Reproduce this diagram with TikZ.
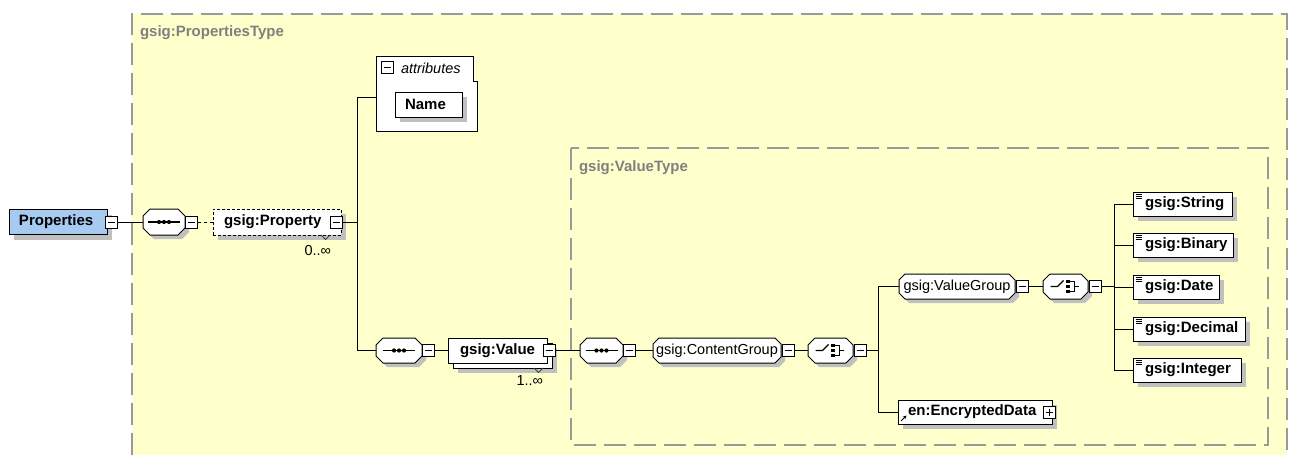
\documentclass[tikz,border=0pt]{standalone}
\usepackage{fontspec}
\setmainfont{Liberation Sans}
\usetikzlibrary{calc,shadows,arrows.meta}

\definecolor{paneyellow}{HTML}{FFFFCC}
\definecolor{framegray}{HTML}{999999}
\definecolor{labelgray}{HTML}{808080}
\definecolor{shadowgray}{HTML}{C0C0C0}
\definecolor{rootblue}{HTML}{A6CAF0}

\newcommand\elemfont{\fontsize{15}{17}\selectfont\bfseries}
\newcommand\plainfont{\fontsize{14.5}{17}\selectfont}

% octagon outline around a named (invisible) node: #2 chamfer, #3/#4 right/down offset
\newcommand\octpath[4]{($(#1.north west)+(#2+#3,-#4)$) -- ($(#1.north east)+(-#2+#3,-#4)$) -- ($(#1.north east)+(#3,-#2-#4)$) -- ($(#1.south east)+(#3,#2-#4)$) -- ($(#1.south east)+(-#2+#3,-#4)$) -- ($(#1.south west)+(#2+#3,-#4)$) -- ($(#1.south west)+(#3,#2-#4)$) -- ($(#1.north west)+(#3,-#2-#4)$) -- cycle}
\newcommand\octshape[2]{%
  \fill[shadowgray] \octpath{#1}{#2}{4pt}{4pt};
  \filldraw[fill=white, line width=1pt] \octpath{#1}{#2}{0pt}{0pt};}

% sequence compositor glyph
\newcommand\seqglyph[1]{%
  \begin{scope}[shift={(#1.center)}]
    \draw[line width=1.1pt] (-16,0) -- (16,0);
    \foreach \d in {-5,0,5} \fill (\d,0) circle (2.1pt);
  \end{scope}}
% choice compositor glyph
\newcommand\choiceglyph[1]{%
  \begin{scope}[shift={(#1.center)}, line width=1.1pt]
    \draw (-15,0) -- (-8,0) -- (-2,-6);
    \foreach \d in {-5,0,5} \fill (0.5,\d-1.9) rectangle (4.5,\d+1.9);
    \draw (4.5,-5) -- (9,-5) -- (9,5) -- (4.5,5);
    \draw (9,0) -- (13,0);
  \end{scope}}
% simple-type marker in the top left corner of an element
\newcommand\simpleglyph[1]{%
  \begin{scope}[shift={(#1.north west)}, line width=0.8pt]
    \foreach \d in {2.2,4.4,6.6} \draw (2.5,\d) -- (8.5,\d);
  \end{scope}}

\begin{document}
\begin{tikzpicture}[x=1pt, y=-1pt,
  every node/.style={inner sep=0pt, outer sep=0pt},
  edge/.style={line width=1pt},
  frame/.style={draw=framegray, line width=1.6pt, dash pattern=on 22pt off 8pt},
  framelabel/.style={anchor=west, text=labelgray, font=\elemfont},
  pmbox/.style={draw, fill=white, minimum size=12pt, line width=0.9pt},
  minusbox/.style={pmbox, path picture={\draw[line width=1pt] ([xshift=2.5pt]path picture bounding box.west) -- ([xshift=-2.5pt]path picture bounding box.east);}},
  plusbox/.style={pmbox, path picture={\draw[line width=1pt] ([xshift=2.5pt]path picture bounding box.west) -- ([xshift=-2.5pt]path picture bounding box.east) ([yshift=-2.5pt]path picture bounding box.north) -- ([yshift=2.5pt]path picture bounding box.south);}},
  shadowed/.style={drop shadow={shadow xshift=5pt, shadow yshift=-5pt, opacity=1, fill=shadowgray}},
  elem/.style={draw, fill=white, line width=1pt, anchor=west, align=left, minimum height=25pt, font=\elemfont},
  grouplabel/.style={font=\plainfont},
  occurs/.style={anchor=east, font=\plainfont},
  notch/.style={draw=black!75, line width=0.8pt},
]
\useasboundingbox (0,0) rectangle (1290,455);
\fill[white] (0,0) rectangle (1290,455);

% complex type panes
\fill[paneyellow] (132,14) rectangle (1287,455);
\draw[frame] (132,455) -- (132,14) -- (1287,14) -- (1287,455);
\node[framelabel] (ptype) at (140,33) {gsig:PropertiesType};
\draw[frame] (571,148) rectangle (1268,445);
\node[framelabel] (vtype) at (579,168) {gsig:ValueType};

% root element
\node[elem, shadowed, fill=rootblue, inner xsep=10pt, text width=78pt] (props) at (9,222) {Properties};
\node[minusbox] (props-m) at (111.5,222) {};

% outer sequence
\node[minimum width=42pt, minimum height=26pt] (seq1) at (164,222) {};
\octshape{seq1}{7pt}
\seqglyph{seq1}
\node[minusbox] (seq1-m) at (191.5,222) {};

% gsig:Property (optional, repeating)
\node[elem, shadowed, dash pattern=on 3pt off 2pt, inner xsep=11pt, text width=106pt, minimum height=26pt] (prop) at (213,222) {gsig:Property};
\node[minusbox] (prop-m) at (336.5,222) {};
\draw[notch] ([xshift=-20pt]prop.south east) -- ([xshift=-15.5pt,yshift=-4.5pt]prop.south east) -- ([xshift=-11pt]prop.south east);
\node[occurs] (prop-occ) at (331,251) {0..∞};

% attributes
\node[minimum width=101pt, minimum height=75pt] (attr) at (426.5,93.5) {};
\filldraw[fill=white, line width=1pt] (attr.north west) -- ([xshift=-4pt]attr.north east) -- ([xshift=-4pt,yshift=-25pt]attr.north east) -- ([yshift=-25pt]attr.north east) -- (attr.south east) -- (attr.south west) -- cycle;
\node[minusbox] (attr-m) at (387.5,67) {};
\node[anchor=west, font=\plainfont\itshape] (attr-t) at (401,68) {attributes};
\node[elem, shadowed, inner xsep=10pt, text width=47pt] (name) at (395,104.5) {Name};

% inner sequence
\node[minimum width=46pt, minimum height=25pt] (seq2) at (399,350.5) {};
\octshape{seq2}{7pt}
\seqglyph{seq2}
\node[minusbox] (seq2-m) at (428.5,350.5) {};

% gsig:Value (repeating)
\node[elem, shadowed, minimum width=99pt] (valb) at (453,355.5) {};
\node[elem, inner xsep=12pt, text width=75pt] (val) at (448,350.5) {gsig:Value};
\node[minusbox] (val-m) at (549,350.5) {};
\draw[notch] ([xshift=-18pt]valb.south east) -- ([xshift=-13.5pt,yshift=-4.5pt]valb.south east) -- ([xshift=-9pt]valb.south east);
\node[occurs] (val-occ) at (543,381) {1..∞};

% value type content
\node[minimum width=43pt, minimum height=25pt] (seq3) at (601.5,350.5) {};
\octshape{seq3}{7pt}
\seqglyph{seq3}
\node[minusbox] (seq3-m) at (629.5,350.5) {};

\node[minimum width=128pt, minimum height=25pt] (cg) at (717,350.5) {};
\octshape{cg}{6pt}
\node[grouplabel] (cg-t) at (cg.center) {gsig:ContentGroup};
\node[minusbox] (cg-m) at (788,350.5) {};

\node[minimum width=45pt, minimum height=25pt] (cho1) at (830.5,350.5) {};
\octshape{cho1}{7pt}
\choiceglyph{cho1}
\node[minusbox] (cho1-m) at (860,350.5) {};

\node[minimum width=116pt, minimum height=25pt] (vg) at (957,286.5) {};
\octshape{vg}{6pt}
\node[grouplabel] (vg-t) at (vg.center) {gsig:ValueGroup};
\node[minusbox] (vg-m) at (1022,286.5) {};

\node[minimum width=45pt, minimum height=25pt] (cho2) at (1065.5,286.5) {};
\octshape{cho2}{7pt}
\choiceglyph{cho2}
\node[minusbox] (cho2-m) at (1095,286.5) {};

% simple value elements
\node[elem, shadowed, minimum height=24pt, inner xsep=12pt, text width=75pt] (str) at (1133,204) {gsig:String};
\node[elem, shadowed, minimum height=24pt, inner xsep=12pt, text width=76pt] (bin) at (1133,245) {gsig:Binary};
\node[elem, shadowed, minimum height=24pt, inner xsep=12pt, text width=62pt] (date) at (1133,287) {gsig:Date};
\node[elem, shadowed, minimum height=24pt, inner xsep=12pt, text width=88pt] (dec) at (1133,329) {gsig:Decimal};
\node[elem, shadowed, minimum height=24pt, inner xsep=12pt, text width=84pt] (int) at (1133,370) {gsig:Integer};
\foreach \n in {str,bin,date,dec,int} {\simpleglyph{\n}}

% referenced element
\node[elem, shadowed, minimum height=24pt, inner xsep=10pt, text width=134pt] (enc) at (898,412) {en:EncryptedData};
\node[plusbox] (enc-p) at (1049,412) {};
\draw[line width=0.9pt, -{Stealth[length=3.4pt,width=3.4pt]}] ([shift={(3pt,3pt)}]enc.south west) -- ([shift={(8.5pt,8.5pt)}]enc.south west);

% connectors
\coordinate (vtop) at (357,97);
\coordinate (v2) at (878,350.5);
\coordinate (v3) at (1114,286.5);
\draw[edge] (props-m.east) -- (seq1.west);
\draw[edge, dash pattern=on 3pt off 3pt] (seq1-m.east) -- (prop.west);
\draw[edge] (prop-m.east) -- (prop-m.east -| vtop);
\draw[edge] (attr.west |- vtop) -- (vtop) -- (vtop |- seq2.west) -- (seq2.west);
\draw[edge] (seq2-m.east) -- (val.west);
\draw[edge] (val-m.east) -- (seq3.west);
\draw[edge] (seq3-m.east) -- (cg.west);
\draw[edge] (cg-m.east) -- (cho1.west);
\draw[edge] (cho1-m.east) -- (v2);
\draw[edge] (vg.west) -- (vg.west -| v2) -- (enc.west -| v2) -- (enc.west);
\draw[edge] (vg-m.east) -- (cho2.west);
\draw[edge] (cho2-m.east) -- (v3);
\draw[edge] (str.west) -- (str.west -| v3) -- (int.west -| v3) -- (int.west);
\foreach \n in {bin,date,dec} {\draw[edge] (\n.west -| v3) -- (\n.west);}
\end{tikzpicture}
\end{document}
